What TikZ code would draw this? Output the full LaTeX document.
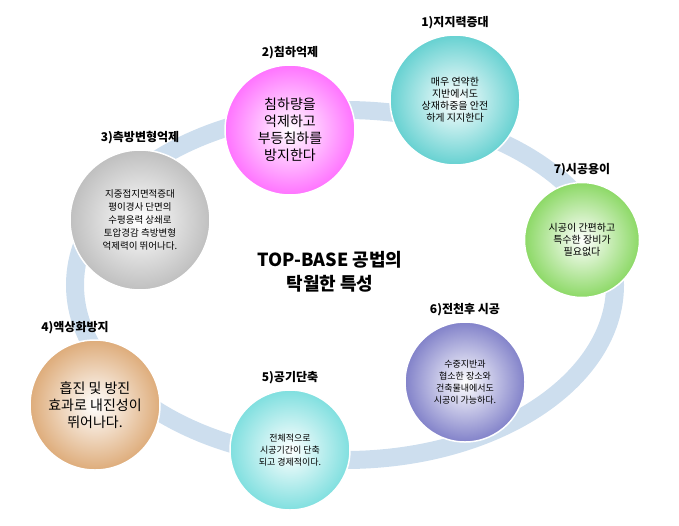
\documentclass[tikz,border=0pt]{standalone}
\usepackage{fontspec}
\setmainfont{Noto Sans CJK KR}
\usetikzlibrary{positioning}
\definecolor{ringblue}{RGB}{205,222,238}
\tikzset{
every node/.style={font=\fontsize{10}{12}\selectfont}
, ring/.style={line width=18pt,color=ringblue}
, ballnode/.style={circle,minimum size=#1,align=center,inner sep=0pt,draw=white,line width=1.5pt,inner color=white}
, caption/.style={font=\bfseries\fontsize{12}{14}\selectfont}}
\begin{document}
\begin{tikzpicture}[x=1pt,y=-1pt]
\useasboundingbox (0,0) rectangle (679,525);
\draw [ring] (345,285) ellipse [x radius=270, y radius=175];
% balls along the ring
\node[ballnode=130pt,outer color=teal!60!cyan!60] at (455,100) (b1) {매우 연약한\\지반에서도\\상재하중을 안전\\하게 지지한다};
\node[ballnode=130pt,outer color=magenta!55,font=\fontsize{14}{17}\selectfont] at (290,130) (b2) {침하량을\\억제하고\\부등침하를\\방지한다};
\node[ballnode=140pt,outer color=gray!50,font=\fontsize{9.5}{13}\selectfont] at (140,220) (b3) {지중접지면적증대\\평이경사 단면의\\수평응력 상쇄로\\토압경감 측방변형\\억제력이 뛰어나다.};
\node[ballnode=115pt,outer color=green!50!olive!60] at (582,240) (b7) {시공이 간편하고\\특수한 장비가\\필요없다};
\node[ballnode=120pt,outer color=blue!40!gray!70,font=\fontsize{9}{12}\selectfont] at (465,382) (b6) {수중지반과\\협소한 장소와\\건축물내에서도\\시공이 가능하다.};
\node[ballnode=120pt,outer color=cyan!50!teal!50,font=\fontsize{9}{12}\selectfont] at (290,450) (b5) {전체적으로\\시공기간이 단축\\되고 경제적이다.};
\node[ballnode=130pt,outer color=brown!80!orange!65,font=\fontsize{14}{17}\selectfont] at (95,405) (b4) {흡진 및 방진\\효과로 내진성이\\뛰어나다.};
% captions
\node[caption,above=2pt of b1] (c1) {1)지지력증대};
\node[caption,above=2pt of b2] (c2) {2)침하억제};
\node[caption,above=2pt of b3] (c3) {3)측방변형억제};
\node[caption,above=2pt of b7] (c7) {7)시공용이};
\node[caption,above=2pt of b6] (c6) {6)전천후 시공};
\node[caption,above=2pt of b5] (c5) {5)공기단축};
\node[caption,above=2pt of b4,xshift=-20pt] (c4) {4)액상화방지};
\node[font=\bfseries\fontsize{18}{24}\selectfont,align=center] at (330,272) (title) {TOP-BASE 공법의\\탁월한 특성};
\end{tikzpicture}
\end{document}
